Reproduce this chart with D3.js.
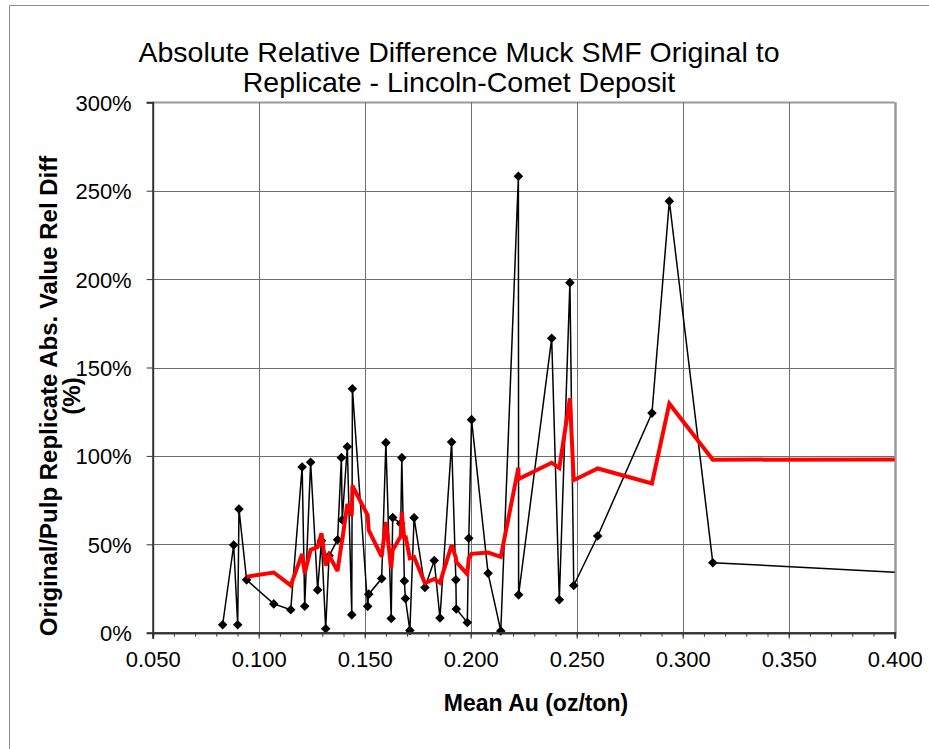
<!DOCTYPE html>
<html lang="en">
<head>
<meta charset="utf-8">
<title>Absolute Relative Difference Muck SMF</title>
<script src="https://d3js.org/d3.v7.min.js"></script>
<style>
  body { margin: 0; background: #fff; }
  svg text { font-family: "Liberation Sans", Arial, sans-serif; fill: #000; }
</style>
</head>
<body>
<div id="chart"></div>
<script>
  // values (mean Au oz/ton, abs. rel. difference in %)
  var meanAu = [0.0830, 0.0882, 0.0901, 0.0907, 0.0943, 0.1071, 0.1151, 0.1205, 0.1217, 0.1245,
                0.1278, 0.1296, 0.1316, 0.1332, 0.1372, 0.1390, 0.1394, 0.1418, 0.1439, 0.1442,
                0.1514, 0.1519, 0.1580, 0.1600, 0.1625, 0.1632, 0.1670, 0.1675, 0.1687, 0.1692,
                0.1713, 0.1733, 0.1784, 0.1828, 0.1855, 0.1910, 0.1930, 0.1932, 0.1984, 0.1991,
                0.2004, 0.2082, 0.2142, 0.2225, 0.2226, 0.2382, 0.2418, 0.2468, 0.2486, 0.2599,
                0.2855, 0.2937, 0.3142, 0.5000];
  var relDiff = [4.5, 49.6, 4.5, 69.9, 29.9, 16.3, 13.0, 93.7, 15.0, 96.4,
                 24.2, 52.0, 2.2, 43.5, 52.6, 99.0, 63.8, 105.2, 10.1, 138.0,
                 14.9, 21.8, 30.6, 107.5, 8.0, 65.1, 61.8, 99.0, 29.3, 19.3,
                 1.3, 65.0, 25.6, 40.8, 8.3, 107.8, 29.9, 13.4, 5.8, 53.4,
                 120.5, 33.6, 1.0, 258.2, 21.4, 166.5, 18.6, 198.0, 26.7, 54.7,
                 124.2, 244.1, 39.6, 28.0];
  var maPeriod = 5;   // moving average trendline (red)

  var xTicks = [0.05, 0.10, 0.15, 0.20, 0.25, 0.30, 0.35, 0.40];
  var yTicks = [0, 50, 100, 150, 200, 250, 300];
  var titleLines = ["Absolute Relative Difference Muck SMF Original to", "Replicate - Lincoln-Comet Deposit"];
  var xTitle = "Mean Au (oz/ton)";
  var yTitleLines = ["Original/Pulp Replicate Abs. Value Rel Diff", "(%)"];

  var W = 929, H = 749;
  var plotL = 152.7, plotR = 894.7, plotT = 102.3, plotB = 632.7;

  var svg = d3.select("#chart").append("svg")
    .attr("width", W)
    .attr("height", H)

  // outer chart frame
  svg.append("path")
    .attr("d", "M9.5," + H + "V5.5H" + W)
    .attr("fill", "none")
    .attr("stroke", "#8c8c8c")
    .attr("stroke-width", 1)

  var x = d3.scaleLinear().domain([0.05, 0.40]).range([plotL, plotR]);
  var y = d3.scaleLinear().domain([0, 300]).range([plotB, plotT]);

  var points = meanAu.map(function(v, i) { return { x: v, y: relDiff[i] }; });
  var avg = [];
  for (var i = maPeriod - 1; i < points.length; i++) {
    avg.push({ x: points[i].x, y: d3.mean(points.slice(i - maPeriod + 1, i + 1), function(d) { return d.y; }) });
  }

  // gridlines
  svg.append("g")
    .selectAll("line")
    .data(yTicks.slice(1))
    .join("line")
    .attr("x1", plotL).attr("x2", plotR)
    .attr("y1", function(d) { return Math.round(y(d)) + 0.5; })
    .attr("y2", function(d) { return Math.round(y(d)) + 0.5; })
    .attr("stroke", function(d) { return d === 300 ? "#999" : "#6e6e6e"; })
    .attr("stroke-width", function(d) { return d === 300 ? 2 : 1; })

  svg.append("g")
    .selectAll("line")
    .data(xTicks.slice(1))
    .join("line")
    .attr("y1", plotT).attr("y2", plotB)
    .attr("x1", function(d) { return Math.round(x(d)) + 0.5; })
    .attr("x2", function(d) { return Math.round(x(d)) + 0.5; })
    .attr("stroke", function(d) { return d > 0.39 ? "#999" : "#6e6e6e"; })
    .attr("stroke-width", function(d) { return d > 0.39 ? 2.5 : 1; })

  svg.append("clipPath").attr("id", "plot-clip")
    .append("rect")
    .attr("x", plotL).attr("y", plotT - 6)
    .attr("width", plotR - plotL).attr("height", plotB - plotT + 12)

  var plot = svg.append("g").attr("clip-path", "url(#plot-clip)");

  var line = d3.line().x(function(d) { return x(d.x); }).y(function(d) { return y(d.y); });

  plot.append("path")
    .datum(points)
    .attr("d", line)
    .attr("fill", "none")
    .attr("stroke", "#000")
    .attr("stroke-width", 1.5)

  var diamond = d3.symbol(d3.symbolSquare, 46);
  plot.append("g")
    .selectAll("path")
    .data(points)
    .join("path")
    .attr("d", diamond)
    .attr("transform", function(d) { return "translate(" + x(d.x) + "," + y(d.y) + ") rotate(45)"; })
    .attr("fill", "#000")

  plot.append("path")
    .datum(avg)
    .attr("d", line)
    .attr("fill", "none")
    .attr("stroke", "#ff0000")
    .attr("stroke-width", 4)
    .attr("stroke-miterlimit", 3)

  // axes
  var xAxis = d3.axisBottom(x).tickValues(xTicks).tickSize(6).tickFormat(d3.format(".3f"));
  var xMinor = d3.axisBottom(x).tickValues(d3.range(5, 41).map(function(v) { return v / 100; })).tickSize(4).tickFormat("");
  var yAxis = d3.axisLeft(y).tickValues(yTicks).tickSize(6).tickFormat(function(d) { return d + "%"; }).tickPadding(15);

  var gxm = svg.append("g").attr("transform", "translate(0," + plotB + ")").call(xMinor);
  var gx = svg.append("g").attr("transform", "translate(0," + plotB + ")").call(xAxis);
  var gy = svg.append("g").attr("transform", "translate(" + plotL + ",0)").call(yAxis);

  [gxm, gx, gy].forEach(function(g) {
    g.attr("font-family", null).attr("font-size", null);
    g.select(".domain").attr("stroke", "#333").attr("stroke-width", 2);
    g.selectAll(".tick line").attr("stroke", "#333");
  });
  gx.selectAll("text").attr("font-size", 22).attr("dy", 0).attr("y", 34);
  gy.selectAll("text").attr("font-size", 22).attr("dy", "0.36em");

  // titles
  svg.append("text")
    .attr("text-anchor", "middle")
    .attr("font-size", 28.5)
    .selectAll("tspan")
    .data(titleLines)
    .join("tspan")
    .attr("x", 459)
    .attr("y", function(d, i) { return 62 + i * 30; })
    .text(function(d) { return d; })

  svg.append("text")
    .attr("x", 536).attr("y", 711)
    .attr("text-anchor", "middle")
    .attr("font-size", 23)
    .attr("font-weight", "bold")
    .text(xTitle)

  svg.append("g")
    .attr("transform", "translate(0,396) rotate(-90)")
    .selectAll("text")
    .data(yTitleLines)
    .join("text")
    .attr("x", 0)
    .attr("y", function(d, i) { return 57 + i * 23; })
    .attr("text-anchor", "middle")
    .attr("font-size", 24)
    .attr("font-weight", "bold")
    .text(function(d) { return d; })
</script>
</body>
</html>
